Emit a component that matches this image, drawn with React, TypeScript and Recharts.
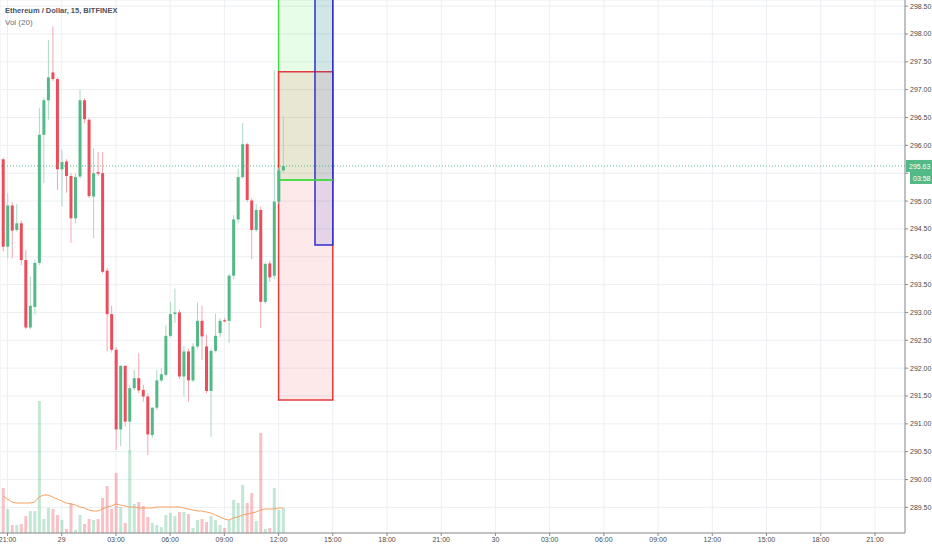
import React from 'react';
import {
  ComposedChart,
  Bar,
  Line,
  XAxis,
  YAxis,
  CartesianGrid,
  ReferenceArea,
  ReferenceLine,
  Cell,
} from 'recharts';

// ---- data (15-minute candles, 28th 20:45 -> 29th 12:15) ----
const BAR_INDEX = [
  0, 1, 2, 3, 4, 5, 6, 7, 8, 9, 10, 11, 12, 13, 14, 15, 16, 17, 18, 19, 20,
  21, 22, 23, 24, 25, 26, 27, 28, 29, 30, 31, 32, 33, 34, 35, 36, 37, 38, 39,
  40, 41, 42, 43, 44, 45, 46, 47, 48, 49, 50, 51, 52, 53, 54, 55, 56, 57, 58,
  59, 60, 61, 62,
];
const OPEN = [
  295.75, 294.18, 294.92, 294.48, 294.6, 293.94, 292.73, 293.1, 293.89, 296.19,
  296.81, 297.31, 297.19, 295.57, 295.71, 295.45, 294.69, 295.44, 296.81, 296.46,
  295.08, 295.52, 295.5, 293.75, 292.97, 292.33, 290.9, 292.04, 291.04, 291.64,
  291.82, 291.61, 291.49, 290.8, 291.29, 291.78, 291.88, 292.58, 292.97, 293.0,
  291.85, 292.3, 291.78, 292.39, 292.85, 292.39, 291.59, 292.31, 292.63, 292.86,
  292.85, 293.66, 294.67, 295.43, 296.02, 295.01, 294.48, 294.84, 293.19, 293.88,
  293.66, 294.99, 295.55,
];
const HIGH = [
  295.78, 295.14, 294.98, 294.95, 294.65, 294.12, 293.64, 293.95, 296.67, 296.85,
  297.89, 298.14, 297.22, 295.92, 295.75, 295.5, 295.5, 297.0, 296.85, 296.5,
  295.95, 295.88, 295.88, 293.8, 293.12, 292.38, 292.06, 292.06, 291.7, 291.97,
  292.27, 291.7, 291.55, 291.3, 291.97, 292.0, 292.77, 293.19, 293.43, 293.05,
  292.4, 292.35, 292.45, 293.18, 293.12, 292.6, 292.35, 292.98, 292.9, 292.9,
  293.7, 294.75, 295.58, 296.4, 296.05, 295.05, 294.95, 294.9, 293.9, 293.93,
  297.35, 295.6, 296.53,
];
const LOW = [
  294.1, 293.97, 293.97, 294.45, 293.85, 292.7, 292.7, 292.96, 293.85, 295.32,
  296.46, 297.15, 295.2, 294.9, 295.15, 294.25, 294.6, 295.4, 296.4, 295.05,
  294.33, 295.45, 293.7, 292.3, 292.28, 290.53, 290.6, 290.95, 290.45, 291.6,
  291.55, 291.4, 290.44, 290.75, 291.25, 291.75, 291.85, 292.55, 292.81, 291.8,
  291.49, 291.4, 291.75, 292.35, 292.15, 291.55, 290.77, 292.28, 292.55, 292.82,
  292.45, 293.6, 294.6, 295.4, 294.98, 293.96, 294.45, 292.72, 293.15, 293.55,
  293.6, 294.95, 295.5,
];
const CLOSE = [
  294.18, 294.92, 294.47, 294.6, 293.94, 292.73, 293.12, 293.89, 296.19, 296.81,
  297.22, 297.19, 295.57, 295.7, 295.45, 294.69, 295.43, 296.81, 296.47, 295.09,
  295.5, 295.49, 293.73, 292.97, 292.33, 290.9, 292.04, 291.04, 291.64, 291.82,
  291.6, 291.49, 290.81, 291.29, 291.78, 291.89, 292.58, 292.97, 293.0, 291.85,
  292.3, 291.78, 292.39, 292.85, 292.57, 291.59, 292.31, 292.58, 292.85, 292.84,
  293.66, 294.67, 295.43, 296.02, 295.02, 294.48, 294.84, 293.19, 293.87, 293.63,
  294.99, 295.55, 295.63,
];
const VOLUME = [
  450, 240, 80, 80, 90, 170, 220, 220, 1320, 140, 250, 240, 180, 130, 40, 300,
  30, 180, 90, 140, 130, 140, 350, 470, 240, 600, 260, 100, 830, 290, 310, 270,
  160, 100, 80, 60, 180, 200, 170, 210, 210, 190, 50, 130, 140, 110, 170, 130,
  80, 50, 130, 330, 300, 480, 300, 400, 120, 1000, 40, 50, 450, 230, 250,
];
const VOL_MA = [
  370, 340, 310, 300, 300, 300, 300, 310, 360, 380, 380, 360, 340, 320, 300, 290,
  280, 260, 250, 230, 220, 220, 240, 260, 270, 290, 280, 270, 260, 260, 250, 250,
  250, 250, 260, 260, 260, 260, 260, 260, 250, 240, 230, 220, 220, 210, 200, 180,
  160, 140, 130, 150, 160, 180, 190, 200, 210, 230, 240, 240, 240, 250, 250,
];

const X_TICKS = [1, 13, 25, 37, 49, 61, 73, 85, 97, 109, 121, 133, 145, 157, 169, 181, 193];
const X_TICK_LABELS = [
  '21:00', '29', '03:00', '06:00', '09:00', '12:00', '15:00', '18:00', '21:00',
  '30', '03:00', '06:00', '09:00', '12:00', '15:00', '18:00', '21:00',
];
const PRICE_TICKS = [
  289.5, 290, 290.5, 291, 291.5, 292, 292.5, 293, 293.5, 294, 294.5, 295, 295.5,
  296, 296.5, 297, 297.5, 298, 298.5,
];
const LAST_PRICE = 295.63;
const COUNTDOWN = '03:58';

// position tool (long position drawing)
const POS_START = 61;
const POS_END = 73;
const POS_TARGET_LEVEL = 295.38; // green zone bottom
const POS_STOP_TOP = 297.32;
const POS_STOP_BOTTOM = 291.43;
const BLUE_START = 69.06;
const BLUE_BOTTOM = 294.21;

// ---- view / style ----
const X_MIN = -0.66;
const X_MAX = 199.65;
const Y_MIN = 289.04;
const Y_MAX = 298.61;
const VOL_MAX = 5330;

const GREEN = '#53b987';
const RED = '#eb4d5c';
const GREEN_WICK = '#a9d9c1';
const RED_WICK = '#f2a7af';
const GRID = '#eceff3';
const AXIS = '#8c8c8c';
const TEXT = '#4a4a4a';
const FONT = '"Liberation Sans", Arial, sans-serif';

const data = BAR_INDEX.map((i, k) => ({
  i,
  open: OPEN[k],
  high: HIGH[k],
  low: LOW[k],
  close: CLOSE[k],
  range: [LOW[k], HIGH[k]],
  vol: VOLUME[k],
  volMa: VOL_MA[k],
}));

const CandleShape = (props: any) => {
  const { x, y, width, height, payload } = props;
  if (x == null || y == null || !payload) return null;
  const top = Math.min(y, y + height);
  const h = Math.abs(height);
  const { open, close, high, low } = payload;
  const k = h / (high - low);
  const up = close >= open;
  const cx = x + width / 2;
  const yO = top + (high - open) * k;
  const yC = top + (high - close) * k;
  const bTop = Math.min(yO, yC);
  const bH = Math.max(1, Math.abs(yO - yC));
  return (
    <g>
      <line x1={cx} x2={cx} y1={top} y2={top + h} stroke={up ? GREEN_WICK : RED_WICK} strokeWidth={1} />
      <rect x={cx - 1.5} y={bTop} width={3} height={bH} fill={up ? GREEN : RED} />
    </g>
  );
};

const PriceTag = (props: any) => {
  const vb = props.viewBox || {};
  const right = (vb.x || 0) + (vb.width || 0);
  const yy = vb.y || 0;
  return (
    <g>
      <rect x={right + 1} y={yy - 6} width={27} height={12} fill={GREEN} />
      <text x={right + 4} y={yy + 3} fill="#ffffff" fontSize={7} fontFamily={FONT}>
        {LAST_PRICE.toFixed(2)}
      </text>
      <rect x={right + 5} y={yy + 6} width={23} height={12} fill={GREEN} />
      <text x={right + 8} y={yy + 15} fill="#ffffff" fontSize={7} fontFamily={FONT}>
        {COUNTDOWN}
      </text>
    </g>
  );
};

// price-axis tick; labels hidden behind the last-price tag are not drawn
const PriceTick = (props: any) => {
  const { x, y, payload } = props;
  const v = payload?.value as number;
  if (v == null) return null;
  if (Math.abs(v - LAST_PRICE) < 0.3) return null;
  return (
    <text x={x + 1} y={y} dy="0.355em" fontSize={7} fill={TEXT} fontFamily={FONT} textAnchor="start">
      {v.toFixed(2)}
    </text>
  );
};

const xLabel = (v: number) => {
  const idx = X_TICKS.indexOf(v);
  return idx >= 0 ? X_TICK_LABELS[idx] : '';
};

export default function App() {
  return (
    <div style={{ position: 'absolute', left: 0, top: 0, width: 932, height: 550, background: '#fff', fontFamily: FONT }}>
      <ComposedChart
        width={932}
        height={550}
        data={data}
        margin={{ top: 0, right: 0, bottom: 0, left: 0 }}
      >
        <CartesianGrid stroke={GRID} strokeWidth={1} />
        <XAxis
          dataKey="i"
          type="number"
          domain={[X_MIN, X_MAX]}
          allowDataOverflow
          ticks={X_TICKS}
          interval={0}
          tickFormatter={xLabel}
          height={17}
          tickSize={3}
          tickMargin={1}
          tick={{ fontSize: 7, fill: TEXT, fontFamily: FONT }}
          axisLine={{ stroke: AXIS }}
          tickLine={{ stroke: AXIS }}
        />
        <XAxis xAxisId="vol" dataKey="i" type="number" domain={[X_MIN, X_MAX]} allowDataOverflow hide />
        <YAxis
          orientation="right"
          domain={[Y_MIN, Y_MAX]}
          allowDataOverflow
          ticks={PRICE_TICKS}
          interval={0}
          width={27}
          tickSize={3}
          tickMargin={1}
          tick={(p: any) => <PriceTick {...p} />}
          axisLine={{ stroke: AXIS }}
          tickLine={{ stroke: AXIS }}
        />
        <YAxis yAxisId="vol" domain={[0, VOL_MAX]} allowDataOverflow hide />

        <Bar xAxisId="vol" yAxisId="vol" dataKey="vol" barSize={3} isAnimationActive={false}>
          {data.map((d) => (
            <Cell
              key={d.i}
              fill={d.close >= d.open ? 'rgba(83,185,135,0.35)' : 'rgba(235,77,92,0.35)'}
            />
          ))}
        </Bar>
        <Line
          xAxisId="vol"
          yAxisId="vol"
          dataKey="volMa"
          type="linear"
          stroke="#f5a261"
          strokeWidth={1}
          dot={false}
          activeDot={false}
          legendType="none"
          isAnimationActive={false}
        />

        <Bar dataKey="range" barSize={3} isAnimationActive={false} shape={(p: any) => <CandleShape {...p} />} />

        <ReferenceLine
          y={LAST_PRICE}
          stroke={GREEN}
          strokeDasharray="1 2"
          strokeWidth={1}
          label={(p: any) => <PriceTag {...p} />}
        />

        <ReferenceArea
          x1={POS_START}
          x2={POS_END}
          y1={POS_TARGET_LEVEL}
          y2={Y_MAX + 0.3}
          ifOverflow="visible"
          fill="rgb(0,230,0)"
          fillOpacity={0.09}
          stroke="#44dd44"
          strokeWidth={1.5}
        />
        <ReferenceArea
          x1={POS_START}
          x2={POS_END}
          y1={POS_STOP_BOTTOM}
          y2={POS_STOP_TOP}
          fill="rgb(240,40,40)"
          fillOpacity={0.1}
          stroke="#e53a3a"
          strokeWidth={1.5}
        />
        <ReferenceLine
          segment={[
            { x: POS_START, y: POS_TARGET_LEVEL },
            { x: POS_END, y: POS_TARGET_LEVEL },
          ]}
          stroke="#44dd44"
          strokeWidth={1.5}
        />
        <ReferenceArea
          x1={BLUE_START}
          x2={POS_END}
          y1={BLUE_BOTTOM}
          y2={Y_MAX + 0.3}
          ifOverflow="visible"
          fill="rgb(60,80,220)"
          fillOpacity={0.13}
          stroke="#2f2fcf"
          strokeWidth={1.5}
        />
      </ComposedChart>
      <div style={{ position: 'absolute', left: 5, top: 5, fontSize: 7.5, lineHeight: '11px', color: '#4c525e', fontWeight: 'bold', whiteSpace: 'nowrap' }}>
        Ethereum / Dollar, 15, BITFINEX
      </div>
      <div style={{ position: 'absolute', left: 5, top: 17, fontSize: 8, lineHeight: '11px', color: '#6a6d78', whiteSpace: 'nowrap' }}>
        Vol (20)
      </div>
    </div>
  );
}
